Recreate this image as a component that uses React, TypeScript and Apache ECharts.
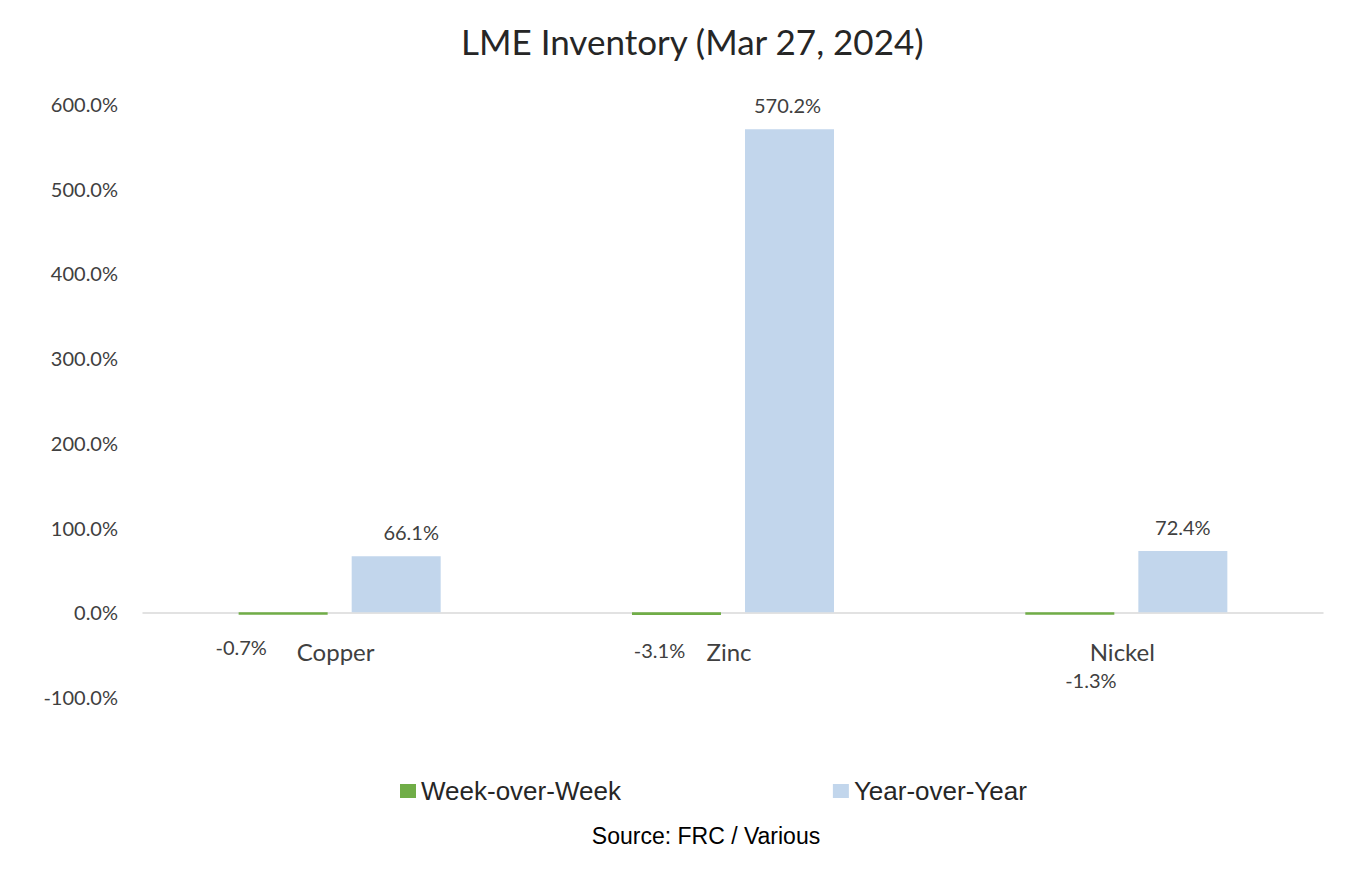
import React, { useEffect, useRef } from "react";
import * as echarts from "echarts";

const categories = ["Copper", "Zinc", "Nickel"];
const weekOverWeek = [-0.7, -3.1, -1.3];
const yearOverYear = [66.1, 570.2, 72.4];
const seriesNames = ["Week-over-Week", "Year-over-Year"];
const yTicks = { min: -100, max: 600, interval: 100 };

// manual label nudges (as in the source chart)
const wowLabelOffsets = [[-42, 33], [-17, 36], [21, 66]];
const yoyLabelOffsets = [[15, 0], [-2, 0], [0, 0]];

const LATO = "Lato, 'Open Sans', sans-serif";
const ARIAL = "'Liberation Sans', Arial, sans-serif";

export default function App() {
  const ref = useRef<HTMLDivElement>(null);
  useEffect(() => {
    if (!ref.current) return;
    const chart = echarts.init(ref.current, undefined, { renderer: "svg" });
    const fmt = (v: number) => v.toFixed(1) + "%";
    chart.setOption({
      animation: false,
      backgroundColor: "#ffffff",
      title: {
        text: "LME Inventory (Mar 27, 2024)",
        left: 456,
        top: 18,
        textStyle: { fontFamily: LATO, fontSize: 35, fontWeight: "normal", color: "#262626" },
      },
      legend: {
        left: 395,
        top: 773,
        itemWidth: 16,
        itemHeight: 14,
        itemGap: 212,
        icon: "rect",
        textStyle: { fontFamily: ARIAL, fontSize: 26, color: "#262626" },
        data: seriesNames,
      },
      graphic: [
        {
          type: "text",
          x: 706,
          y: 836,
          style: {
            text: "Source: FRC / Various",
            font: `23px ${ARIAL}`,
            fill: "#000000",
            textAlign: "center",
            textVerticalAlign: "middle",
          },
        },
      ],
      grid: { left: 143, right: 49, top: 104, bottom: 197 },
      xAxis: {
        type: "category",
        data: categories,
        axisTick: { show: false },
        axisLine: { onZero: true, lineStyle: { color: "#D9D9D9", width: 1.5 } },
        axisLabel: {
          margin: -58,
          fontFamily: LATO,
          fontSize: 24,
          color: "#404040",
          padding: [0, 8, 0, 0],
        },
      },
      yAxis: {
        type: "value",
        min: yTicks.min,
        max: yTicks.max,
        interval: yTicks.interval,
        axisLine: { show: false },
        axisTick: { show: false },
        splitLine: { show: false },
        axisLabel: {
          margin: 25,
          fontFamily: LATO,
          fontSize: 20,
          color: "#404040",
          formatter: (v: number) => fmt(v),
        },
      },
      series: [
        {
          name: seriesNames[0],
          type: "bar",
          barWidth: 89,
          barGap: "27%",
          barMinHeight: 2.5,
          itemStyle: { color: "#70AD47" },
          data: weekOverWeek.map((v, i) => ({
            value: v,
            label: {
              show: true,
              position: "inside",
              offset: wowLabelOffsets[i],
              formatter: (p: any) => fmt(p.value),
              fontFamily: LATO,
              fontSize: 20,
              color: "#404040",
            },
          })),
        },
        {
          name: seriesNames[1],
          type: "bar",
          barWidth: 89,
          barGap: "27%",
          itemStyle: { color: "#C2D6EC" },
          data: yearOverYear.map((v, i) => ({
            value: v,
            label: {
              show: true,
              position: "top",
              distance: 14,
              offset: yoyLabelOffsets[i],
              formatter: (p: any) => fmt(p.value),
              fontFamily: LATO,
              fontSize: 20,
              color: "#404040",
            },
          })),
        },
      ],
    });
    return () => chart.dispose();
  }, []);
  return (
    <div
      ref={ref}
      style={{ position: "fixed", left: 0, top: 0, width: 1372, height: 894 }}
    />
  );
}
